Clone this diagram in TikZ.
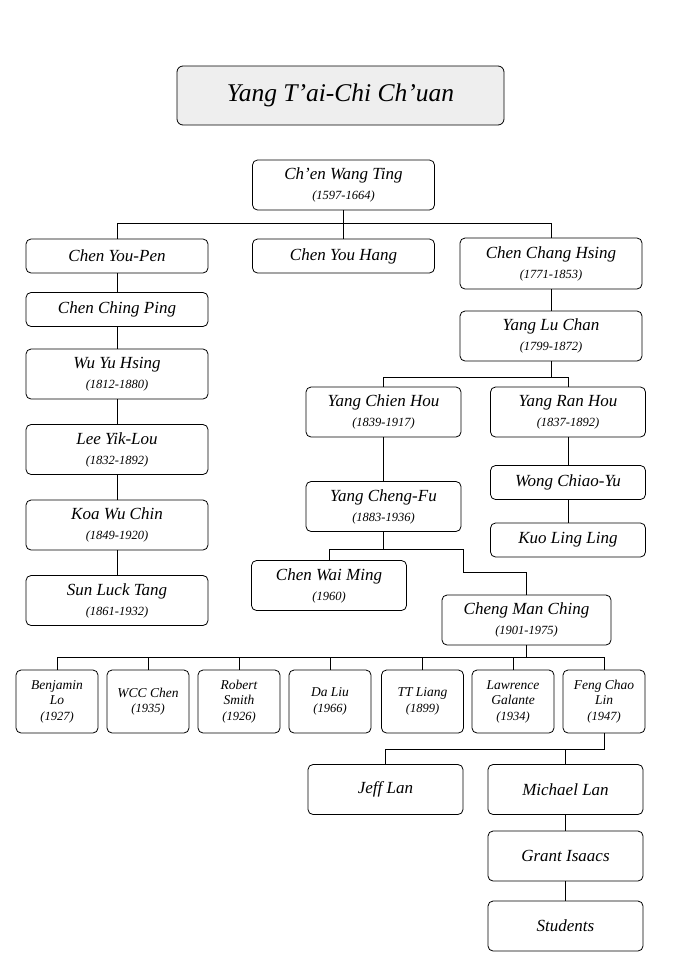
\documentclass[tikz,border=0pt]{standalone}
\usepackage{fontspec}
\setmainfont{Liberation Serif}
\usepackage{tikz}
\definecolor{titlegray}{RGB}{238,238,238}
\newcommand{\namefont}{\fontsize{17}{20}\selectfont\itshape}
\newcommand{\smallname}{\fontsize{13.5}{15.5}\selectfont\itshape}
\newcommand{\yrs}[1]{{\fontsize{12.5}{15}\selectfont\itshape(#1)}}
\tikzset{
 person/.style={
 rectangle,
 rounded corners=5pt,
 draw=black,
 line width=0.8pt,
 align=center,
 inner sep=2pt,
 minimum width=182pt,
 minimum height=50pt,
 font=\namefont
 },
 narrow/.style={person, minimum width=155pt},
 single/.style={minimum height=34pt},
 pupil/.style={person, minimum width=82pt, minimum height=63pt, font=\smallname},
 banner/.style={
 rectangle,
 rounded corners=6pt,
 draw=black,
 line width=0.8pt,
 fill=titlegray,
 minimum width=327pt,
 minimum height=59pt,
 font=\fontsize{25.5}{30}\selectfont\itshape
 },
 lineage/.style={draw=black, line width=0.8pt}
}

\begin{document}
\begin{tikzpicture}[x=1pt, y=-1pt]
 \useasboundingbox (0,0) rectangle (694,967);
 \node[banner] (title) at (340.5,95.5) {Yang T'ai-Chi Ch'uan};
 % first generations
 \node[person] (wang) at (343.5,185) {Ch'en Wang Ting\\\yrs{1597-1664}};
 \node[person, single] (youpen) at (117,256) {Chen You-Pen};
 \node[person, single] (youhang) at (343.5,256) {Chen You Hang};
 \node[person, minimum height=51pt] (changhsing) at (551,263.5) {Chen Chang Hsing\\\yrs{1771-1853}};
 % Wu line
 \node[person, single] (chingping) at (117,309.5) {Chen Ching Ping};
 \node[person] (wuyu) at (117,374) {Wu Yu Hsing\\\yrs{1812-1880}};
 \node[person] (leeyik) at (117,449.5) {Lee Yik-Lou\\\yrs{1832-1892}};
 \node[person] (koawu) at (117,525) {Koa Wu Chin\\\yrs{1849-1920}};
 \node[person] (sunluck) at (117,600.5) {Sun Luck Tang\\\yrs{1861-1932}};
 % Yang line
 \node[person] (luchan) at (551,336) {Yang Lu Chan\\\yrs{1799-1872}};
 \node[narrow] (chienhou) at (383.5,412) {Yang Chien Hou\\\yrs{1839-1917}};
 \node[narrow] (ranhou) at (568,412) {Yang Ran Hou\\\yrs{1837-1892}};
 \node[narrow, single] (wongchiao) at (568,482.5) {Wong Chiao-Yu};
 \node[narrow, single] (kuoling) at (568,540) {Kuo Ling Ling};
 \node[narrow] (chengfu) at (383.5,506.5) {Yang Cheng-Fu\\\yrs{1883-1936}};
 \node[narrow] (waiming) at (329,585.5) {Chen Wai Ming\\\yrs{1960}};
 \node[narrow, minimum width=169pt] (manching) at (526.5,620) {Cheng Man Ching\\\yrs{1901-1975}};
 % students of Cheng Man Ching
 \node[pupil] (benjamin) at (57,701.5) {Benjamin\\Lo\\\yrs{1927}};
 \node[pupil] (wcc) at (148,701.5) {WCC Chen\\\yrs{1935}};
 \node[pupil] (robert) at (239,701.5) {Robert\\Smith\\\yrs{1926}};
 \node[pupil] (daliu) at (330,701.5) {Da Liu\\\yrs{1966}};
 \node[pupil] (ttliang) at (422.5,701.5) {TT Liang\\\yrs{1899}};
 \node[pupil] (lawrence) at (513,701.5) {Lawrence\\Galante\\\yrs{1934}};
 \node[pupil] (feng) at (604,701.5) {Feng Chao\\Lin\\\yrs{1947}};
 \node[narrow] (jeff) at (385.5,789.5) {Jeff Lan};
 \node[narrow] (michael) at (565.5,789.5) {Michael Lan};
 \node[narrow] (grant) at (565.5,856) {Grant Isaacs};
 \node[narrow] (students) at (565.5,926) {Students};

 \coordinate (jog) at (463,572);

 \draw[lineage] (wang) -- (youhang);
 \draw[lineage] (wang.south) -- ++(0,13) -| (youpen.north);
 \draw[lineage] (wang.south) -- ++(0,13) -| (changhsing.north);
 \draw[lineage] (youpen) -- (chingping);
 \draw[lineage] (chingping) -- (wuyu);
 \draw[lineage] (wuyu) -- (leeyik);
 \draw[lineage] (leeyik) -- (koawu);
 \draw[lineage] (koawu) -- (sunluck);
 \draw[lineage] (changhsing) -- (luchan);
 \draw[lineage] (luchan.south) -- ++(0,16) -| (chienhou.north);
 \draw[lineage] (luchan.south) -- ++(0,16) -| (ranhou.north);
 \draw[lineage] (ranhou) -- (wongchiao);
 \draw[lineage] (wongchiao) -- (kuoling);
 \draw[lineage] (chienhou) -- (chengfu);
 \draw[lineage] (chengfu.south) -- ++(0,17) -| (jog) -| (manching.north);
 \draw[lineage] (chengfu.south) -- ++(0,17) -| (waiming.north);
 \foreach \p in {benjamin,wcc,robert,daliu,ttliang,lawrence,feng}
 \draw[lineage] (manching.south) -- ++(0,12) -| (\p.north);
 \draw[lineage] (feng.south) -- ++(0,16) -| (jeff.north);
 \draw[lineage] (feng.south) -- ++(0,16) -| (michael.north);
 \draw[lineage] (michael) -- (grant);
 \draw[lineage] (grant) -- (students);
\end{tikzpicture}
\end{document}
